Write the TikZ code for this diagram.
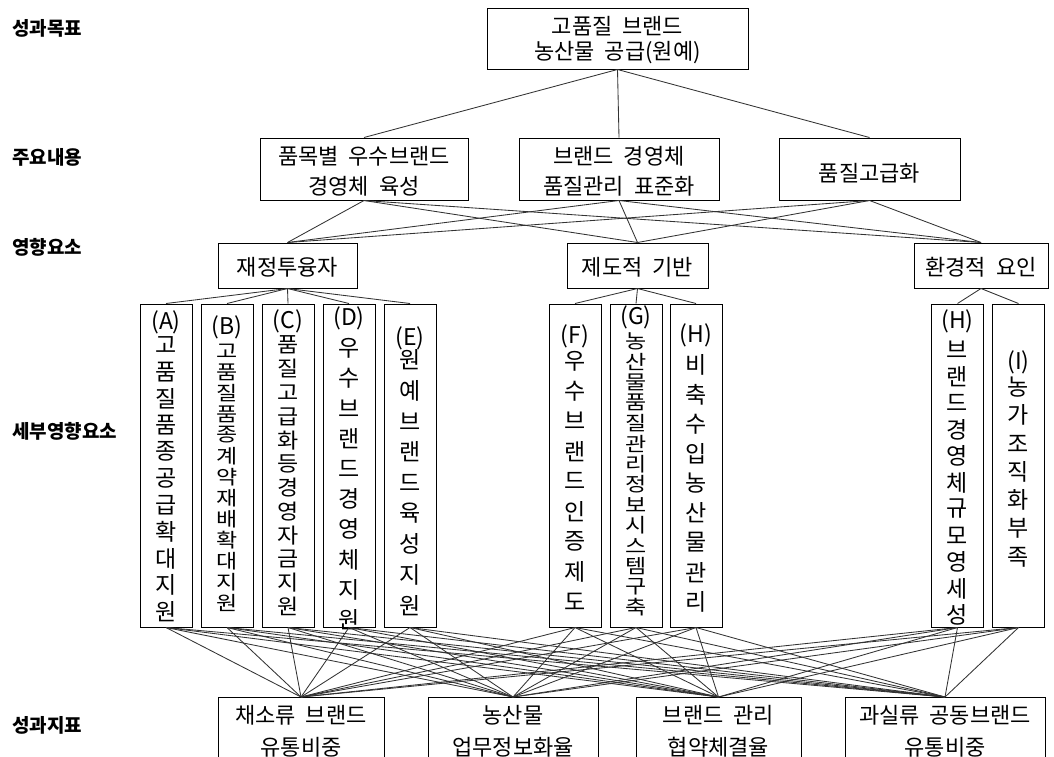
\documentclass[tikz,border=0pt]{standalone}
\usepackage{fontspec}
\usepackage{graphicx}
\setmainfont[WordSpace=2.0]{Noto Sans CJK KR}
\begin{document}
\begin{tikzpicture}[x=1pt,y=-1pt,
  box/.style={draw=black, line width=1pt, inner sep=0pt},
  conn/.style={draw=black!80, line width=0.85pt},
  lab/.style={font=\bfseries\fontsize{19}{21}\selectfont, anchor=west, inner sep=0pt},
  btxt/.style={font=\fontsize{22}{25}\selectfont, align=center, inner sep=0pt},
  vch/.style={font=\fontsize{23}{23}\selectfont, inner sep=0pt},
]
\useasboundingbox (0,0) rectangle (1054,756);
\clip (0,0) rectangle (1054,756);

% left labels
\node[lab] (L1) at (12,28) {성과목표};
\node[lab] (L2) at (12,157) {주요내용};
\node[lab] (L3) at (12,247) {영향요소};
\node[lab] (L4) at (12,431) {세부영향요소};
\node[lab] (L5) at (12,725) {성과지표};

% level 1
\node[box, minimum width=261pt, minimum height=61pt] (T) at (617.5,38.5) {};
\node[btxt] (Tt) at (617.5,40) {고품질 브랜드\\농산물 공급(원예)};

% level 2
\node[box, minimum width=208pt, minimum height=62pt] (M1) at (364,169) {};
\node[box, minimum width=200pt, minimum height=62pt] (M2) at (619,169) {};
\node[box, minimum width=181pt, minimum height=62pt] (M3) at (869.5,169) {};
\node[btxt, font=\fontsize{22}{30}\selectfont] (M1t) at (364,171) {품목별 우수브랜드\\경영체 육성};
\node[btxt, font=\fontsize{22}{30}\selectfont] (M2t) at (619,171) {브랜드 경영체\\품질관리 표준화};
\node[btxt] (M3t) at (869.5,173) {품질고급화};

% level 3
\node[box, minimum width=139pt, minimum height=45pt] (R1) at (287.5,265.5) {};
\node[box, minimum width=141pt, minimum height=45pt] (R2) at (637.5,265.5) {};
\node[box, minimum width=134pt, minimum height=45pt] (R3) at (981,265.5) {};
\node[btxt] (R1t) at (287.5,267) {재정투융자};
\node[btxt] (R2t) at (637.5,267) {제도적 기반};
\node[btxt] (R3t) at (981,267) {환경적 요인};

% level 4 boxes
\foreach \n/\x in {sA/166,sB/227,sC/288,sD/349,sE/410,sF/575,sG/636,sH/696,sHH/957.5,sI/1018.5}
  \node[box, minimum width=52pt, minimum height=323pt] (\n) at (\x,465.5) {};

% level 4 vertical texts
\newcommand\vchars[6]{%
  \foreach \c [count=\k] in {#6}
    \node[vch] (#1-\k) at (#2,{#3+(\k-1)*#4}) {\scalebox{1}[#5]{\c}};
}
\node[vch] (sA-l) at (166,322) {(A)};
\vchars{sA}{166}{345}{26.7}{1}{고,품,질,품,종,공,급,확,대,지,원}
\node[vch] (sB-l) at (227,327) {(B)};
\vchars{sB}{227}{351}{21.0}{0.85}{고,품,질,품,종,계,약,재,배,확,대,지,원}
\node[vch] (sC-l) at (288,321) {(C)};
\vchars{sC}{288}{345}{23.8}{0.92}{품,질,고,급,화,등,경,영,자,금,지,원}
\node[vch] (sD-l) at (349,318) {(D)};
\vchars{sD}{349}{348}{30.2}{1}{우,수,브,랜,드,경,영,체,지,원}
\node[vch] (sE-l) at (410,338) {(E)};
\vchars{sE}{410}{360}{30.7}{1}{원,예,브,랜,드,육,성,지,원}
\node[vch] (sF-l) at (575,336) {(F)};
\vchars{sF}{575}{361}{30.1}{1}{우,수,브,랜,드,인,증,제,도}
\node[vch] (sG-l) at (636,317) {(G)};
\vchars{sG}{636}{341}{20.5}{0.85}{농,산,물,품,질,관,리,정,보,시,스,템,구,축}
\node[vch] (sH-l) at (696,335) {(H)};
\vchars{sH}{696}{365}{29.6}{1}{비,축,수,입,농,산,물,관,리}
\node[vch] (sHH-l) at (957.5,321) {(H)};
\vchars{sHH}{957.5}{350}{26.5}{1}{브,랜,드,경,영,체,규,모,영,세,성}
\node[vch] (sI-l) at (1018.5,362) {(I)};
\vchars{sI}{1018.5}{387}{28.3}{1}{농,가,조,직,화,부,족}

% level 5
\node[box, minimum width=166pt, minimum height=100pt, anchor=north] (P1) at (301,697) {};
\node[box, minimum width=170pt, minimum height=100pt, anchor=north] (P2) at (513,697) {};
\node[box, minimum width=165pt, minimum height=100pt, anchor=north] (P3) at (718.5,697) {};
\node[box, minimum width=200pt, minimum height=100pt, anchor=north] (P4) at (945,697) {};
\node[btxt, font=\fontsize{22}{32}\selectfont] (P1t) at (301,731) {채소류 브랜드\\유통비중};
\node[btxt, font=\fontsize{22}{32}\selectfont] (P2t) at (513,731) {농산물\\업무정보화율};
\node[btxt, font=\fontsize{22}{32}\selectfont] (P3t) at (718.5,731) {브랜드 관리\\협약체결율};
\node[btxt, font=\fontsize{22}{32}\selectfont] (P4t) at (945,731) {과실류 공동브랜드\\유통비중};

% connectors
\foreach \a in {M1,M2,M3} \draw[conn] (T.south) -- (\a.north);
\foreach \a in {M1,M2,M3} \foreach \b in {R1,R2,R3} \draw[conn] (\a.south) -- (\b.north);
\foreach \b in {sA,sB,sC,sD,sE} \draw[conn] (R1.south) -- (\b.north);
\foreach \b in {sF,sG,sH} \draw[conn] (R2.south) -- (\b.north);
\foreach \b in {sHH,sI} \draw[conn] (R3.south) -- (\b.north);
\foreach \a in {sA,sB,sC,sD,sE,sF,sG,sH,sHH,sI}
  \foreach \b in {P1,P2,P3,P4} \draw[conn] (\a.south) -- (\b.north);
\end{tikzpicture}
\end{document}
